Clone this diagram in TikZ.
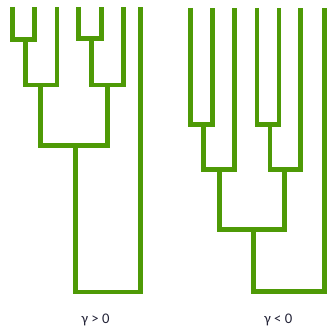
\documentclass[tikz,border=0pt]{standalone}
\usepackage{fontspec}
\setmainfont{Carlito}
\usepackage{tikz}
\definecolor{TreeGreen}{RGB}{78,154,6}
\definecolor{LabelInk}{RGB}{35,35,55}
\tikzset{
  branch/.style={draw=TreeGreen,line width=3.5pt,line join=miter},
  caption/.style={font=\fontsize{11}{13}\selectfont,text=LabelInk,anchor=base,inner sep=0pt}
}

\begin{document}
\begin{tikzpicture}[x=0.75pt,y=-0.75pt]
\useasboundingbox (0,0) rectangle (326,327);

% left tree: leaf tops and merge points
\coordinate (a1) at (12.5,7);
\coordinate (a2) at (34.8,7);
\coordinate (a3) at (57,7);
\coordinate (a4) at (78.8,7);
\coordinate (a5) at (101.2,7);
\coordinate (a6) at (123.3,7);
\coordinate (a7) at (140.4,7);
\coordinate (a12) at (25.2,39.2);
\coordinate (a123) at (40.8,85);
\coordinate (a45) at (91.8,38.8);
\coordinate (a456) at (107.5,85);
\coordinate (a1to6) at (75.2,145.2);
\coordinate (aroot) at (107,292);

\draw[branch] (a1) |- (a12) -| (a2);
\draw[branch] (a12) |- (a123) -| (a3);
\draw[branch] (a4) |- (a45) -| (a5);
\draw[branch] (a45) |- (a456) -| (a6);
\draw[branch] (a123) |- (a1to6) -| (a456);
\draw[branch] (a1to6) |- (aroot) -| (a7);

% right tree
\coordinate (b1) at (190.5,8);
\coordinate (b2) at (212.7,8);
\coordinate (b3) at (234.7,8);
\coordinate (b4) at (257,8);
\coordinate (b5) at (279,8);
\coordinate (b6) at (300.8,8);
\coordinate (b7) at (324.2,8);
\coordinate (b12) at (203.8,124.3);
\coordinate (b123) at (219.2,169.5);
\coordinate (b45) at (270,124.3);
\coordinate (b456) at (284.7,169.5);
\coordinate (b1to6) at (253.2,229.2);
\coordinate (broot) at (289,291.3);

\draw[branch] (b1) |- (b12) -| (b2);
\draw[branch] (b12) |- (b123) -| (b3);
\draw[branch] (b4) |- (b45) -| (b5);
\draw[branch] (b45) |- (b456) -| (b6);
\draw[branch] (b123) |- (b1to6) -| (b456);
\draw[branch] (b1to6) |- (broot) -| (b7);

% captions
\node[caption] (gpos) at (95.5,323) {γ > 0};
\node[caption] (gneg) at (278.3,323) {γ < 0};
\end{tikzpicture}
\end{document}
